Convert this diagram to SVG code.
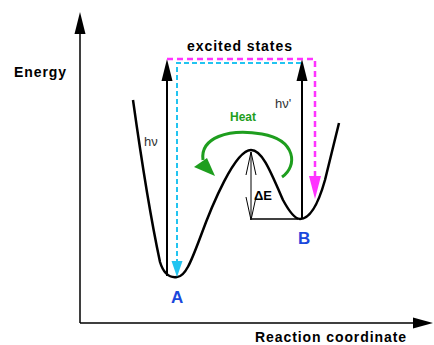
<svg xmlns="http://www.w3.org/2000/svg" width="434" height="345" viewBox="0 0 434 345">
<style>
text{font-family:"Liberation Sans",Arial,sans-serif}
.lbl{font-weight:bold;fill:#000}
.ab{font-weight:bold;fill:#1a48dc;font-size:17px}
.hv{font-size:13px;fill:#333}
.ax{stroke:#000;stroke-width:1.5;fill:none}
.blk{stroke:#000;stroke-width:2;fill:none}
.cy{stroke:#22c4f0;stroke-width:2;stroke-dasharray:5 3;fill:none}
.mg{stroke:#ff33ff;stroke-width:2.5;stroke-dasharray:6 4;fill:none}
.thin{stroke:#000;stroke-width:1;fill:none}
</style>
<rect width="434" height="345" fill="#fff"/>
<g id="axes">
<path class="ax" d="M80 323 V30 M80 323 H416"/>
<polygon points="80,12 74.5,34 85.5,34" fill="#000"/>
<polygon points="433,323 413,317.5 413,328.5" fill="#000"/>
<text class="lbl" x="14" y="77" font-size="14" textLength="52" lengthAdjust="spacing">Energy</text>
<text class="lbl" x="255" y="342" font-size="14" textLength="151" lengthAdjust="spacing">Reaction coordinate</text>
</g>
<g id="curve">
<path d="M133 100 C140 150 150 215 160 262 C164 275 170 278 177 277 C185 277 191 262 200 238 C212 205 235 150 251 150 C262 150 270 170 283 200 C290 213 295 219 300 219 C310 219 318 205 325 180 C330 160 335 140 339 123" stroke="#000" stroke-width="2.5" fill="none" stroke-linejoin="round"/>
</g>
<g id="excited-states">
<text class="lbl" x="187" y="51" font-size="14" textLength="105" lengthAdjust="spacing">excited states</text>
</g>
<g id="connectors">
<g id="hv-up">
<path class="blk" d="M167 276 V78"/>
<polygon points="167,59 161.5,81 172.5,81" fill="#000"/>
</g>
<g id="hvp-up">
<path class="blk" d="M302 218 V78"/>
<polygon points="302,59 296.5,81 307.5,81" fill="#000"/>
</g>
<g id="cyan-down">
<path class="cy" d="M301 63 H177 V262"/>
<polygon points="177,277 171.5,261 182.5,261" fill="#22c4f0"/>
</g>
<g id="magenta-down">
<path class="mg" d="M167 59 H315 V178"/>
<polygon points="315,199 309,176 321,176" fill="#ff33ff"/>
</g>
<g id="heat-arrow">
<path d="M282 177 C298 166 296 140 262 134 C228 128 200 138 203 160" stroke="#1e9e1e" stroke-width="3" fill="none"/>
<polygon points="215,176 194,167 207,158" fill="#1e9e1e"/>
</g>
<g id="delta-e">
<path class="thin" d="M251 152 V220 M246 175 L251 152 L256 175 M246 197 L251 220 L256 197"/>
<path stroke="#000" stroke-width="1.3" d="M252 219 H298"/>
</g>
</g>
<g id="labels">
<text class="hv" x="144" y="146">hν</text>
<text class="hv" x="275" y="108">hν'</text>
<text x="230" y="121" font-size="12" font-weight="bold" fill="#1e9e1e">Heat</text>
<text x="254" y="200" font-size="13" font-weight="bold" font-family="'Liberation Serif',serif">ΔE</text>
<text class="ab" x="171" y="303">A</text>
<text class="ab" x="298" y="244">B</text>
</g>
</svg>
